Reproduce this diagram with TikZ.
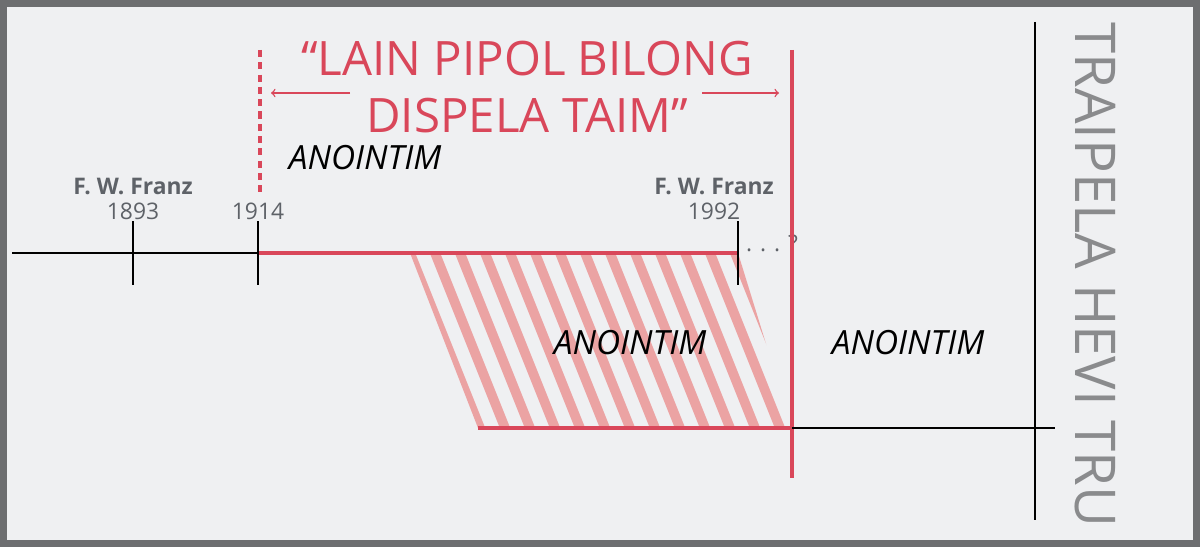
\documentclass[tikz,border=0pt]{standalone}
\usepackage{fontspec}
\setmainfont{Open Sans}
\definecolor{framegray}{HTML}{6D6E70}
\definecolor{paper}{HTML}{EFF0F2}
\definecolor{erared}{HTML}{D9475A}
\definecolor{stripepink}{HTML}{EBA3A3}
\definecolor{labelgray}{HTML}{5E6268}

\begin{document}
\begin{tikzpicture}[x=0.02cm, y=-0.02cm,
    yearlabel/.style={text=labelgray, font=\fontsize{13}{13}\selectfont},
    namelabel/.style={text=labelgray, font=\fontsize{13}{13}\selectfont\bfseries},
    anointlabel/.style={font=\fontsize{19}{19}\selectfont\itshape}]
        % Frame
        \fill[framegray] (0,0) rectangle (1200,547);
        \fill[paper] (7,7) rectangle (1193,540);

        % Hatched band
        \begin{scope}
          \clip (410,253) -- (738,253) -- (792,428) -- (478,428) -- cycle;
          \foreach \x in {385,410,...,760} {
            \draw[stripepink, line width=5.5pt] (\x,253) -- (\x+70,428);
          }
        \end{scope}

        % Main timeline
        \coordinate (tstart) at (12,253);
        \coordinate (t1893) at (133,253);
        \coordinate (t1914) at (258,253);
        \coordinate (t1992) at (738,253);
        \draw[thick] (tstart) -- (t1914);
        \draw[erared, line width=1.8pt] (t1914) -- (t1992);
        \foreach \p in {t1893, t1914, t1992} {
          \draw[thick] ([yshift=18]\p) -- ([yshift=-18]\p);
        }
        \node[text=labelgray, font=\fontsize{13}{13}\selectfont, anchor=west] (unknown) at (740,243) {. . . ?};

        % Year labels
        \node[namelabel] (franza) at (133,186) {F. W. Franz};
        \node[yearlabel] (y1893) at (133,211) {1893};
        \node[yearlabel] (y1914) at (258,211) {1914};
        \node[namelabel] (franzb) at (714,186) {F. W. Franz};
        \node[yearlabel] (y1992) at (714,211) {1992};

        % Era boundaries
        \draw[erared, line width=1.8pt, dash pattern=on 4pt off 3pt] (260,50) -- (260,192);
        \draw[erared, line width=1.8pt] (792,50) -- (792,478);

        % Title and arrows
        \node[text=erared, font=\fontsize{27}{32}\selectfont, align=center] (title) at (527,87) {“LAIN PIPOL BILONG\\DISPELA TAIM”};
        \coordinate (leftend) at (271,93);
        \coordinate (rightend) at (779,93);
        \draw[->, erared, thick] (350,93) -- (leftend);
        \draw[->, erared, thick] (702,93) -- (rightend);

        % Lower timeline
        \coordinate (bstart) at (478,428);
        \coordinate (bmid) at (792,428);
        \coordinate (bend) at (1055,428);
        \draw[erared, line width=1.8pt] (bstart) -- (bmid);
        \draw[thick] (bmid) -- (bend);

        % Anointed labels
        \node[anointlabel] (anointa) at (365,158) {ANOINTIM};
        \node[anointlabel] (anointb) at (630,343) {ANOINTIM};
        \node[anointlabel] (anointc) at (908,343) {ANOINTIM};

        % Harvest
        \draw[thick] (1035,22) -- (1035,520);
        \node[text=framegray!80, font=\fontsize{32}{32}\selectfont, rotate=-90] (harvest) at (1095,275) {TRAIPELA HEVI TRU};
\end{tikzpicture}
\end{document}
